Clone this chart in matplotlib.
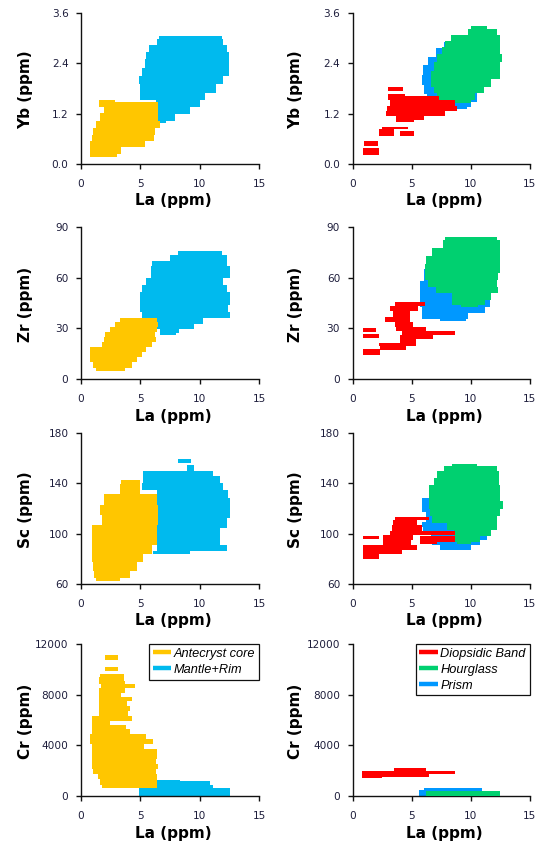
import matplotlib
matplotlib.use("Agg")
import matplotlib.pyplot as plt
from matplotlib.lines import Line2D

plt.rcParams['font.family'] = ['DejaVu Sans']

# Colours of the compositional groups
C_CORE = '#FFC600'
C_MANTLE = '#00BAEE'
C_DIOP = '#FF0000'
C_HOUR = '#00D070'
C_PRISM = '#0098FF'

# Each field is stored as rows: y level, left La edge, right La edge.

# ---- Yb vs La -------------------------------------------------------------
yb_core_y = [1.52, 1.45, 1.29, 1.13, 0.93, 0.78, 0.62, 0.46, 0.34, 0.16]
yb_core_l = [1.55, 1.55, 1.94, 1.60, 1.26, 1.00, 0.90, 0.80, 0.80, 0.80]
yb_core_r = [2.90, 6.50, 6.50, 6.50, 6.65, 6.20, 6.15, 5.40, 3.40, 3.00]

yb_mant_y = [3.04, 2.91, 2.75, 2.60, 2.40, 2.20, 2.00, 1.80, 1.60, 1.45, 1.29, 1.09, 0.97]
yb_mant_l = [6.6, 6.4, 5.7, 5.5, 5.4, 5.1, 4.9, 5.0, 5.0, 6.3, 6.4, 6.4, 6.4]
yb_mant_r = [11.85, 12.0, 12.3, 12.5, 12.5, 12.5, 12.0, 11.4, 10.45, 10.0, 9.2, 7.9, 7.2]

yb_diop = [
    ([0.54, 0.44], [0.99, 0.99], [2.18, 2.18]),
    ([0.38, 0.22], [0.85, 0.85], [2.27, 2.27]),
    ([0.88, 0.78, 0.66], [2.47, 2.20, 2.20], [4.65, 3.50, 3.50]),
    ([0.78, 0.66], [4.0, 4.0], [5.2, 5.2]),
    ([1.84, 1.75], [3.03, 3.03], [4.30, 4.30]),
    ([1.67, 1.58, 1.45, 1.33, 1.21, 1.09, 0.99],
     [3.0, 3.0, 3.2, 2.9, 2.8, 3.7, 3.7],
     [4.4, 7.3, 8.7, 8.85, 7.85, 6.0, 5.2]),
]
yb_prism_y = [2.90, 2.63, 2.48, 2.24, 2.00, 1.76, 1.57, 1.41, 1.30]
yb_prism_l = [7.7, 7.1, 6.4, 5.95, 5.9, 6.0, 6.3, 5.9, 6.3]
yb_prism_r = [8.3, 9.0, 9.5, 10.0, 10.5, 10.5, 10.5, 10.0, 9.7]
yb_hour_y = [3.30, 3.15, 2.99, 2.87, 2.71, 2.52, 2.32, 2.12, 1.92, 1.76, 1.61, 1.45]
yb_hour_l = [10.0, 9.8, 8.3, 7.85, 7.6, 7.15, 6.85, 6.6, 6.6, 6.85, 7.15, 7.4]
yb_hour_r = [11.4, 12.25, 12.5, 12.5, 12.5, 12.65, 12.5, 12.45, 11.7, 11.1, 10.4, 10.0]

# ---- Zr vs La -------------------------------------------------------------
zr_core_y = [36.0, 35.0, 32.0, 29.1, 26.1, 23.2, 20.2, 17.3, 14.3, 11.4, 8.4, 5.0]
zr_core_l = [3.3, 3.3, 2.9, 2.45, 2.0, 1.94, 1.75, 0.8, 0.8, 0.8, 1.0, 1.3]
zr_core_r = [6.4, 6.4, 6.45, 6.4, 6.25, 6.3, 5.95, 5.5, 5.1, 4.7, 4.3, 3.7]

zr_mant_y = [75.5, 71.3, 68.8, 65.4, 61.5, 57.6, 53.6, 49.7, 45.8, 41.9, 37.9, 34.0, 31.0, 28.1, 26.0]
zr_mant_l = [8.2, 7.5, 5.95, 5.9, 5.9, 5.5, 5.1, 5.0, 5.0, 5.0, 5.1, 6.4, 6.4, 6.65, 6.65]
zr_mant_r = [11.85, 12.3, 12.3, 12.55, 12.55, 12.0, 12.3, 12.55, 12.55, 12.4, 12.55, 10.3, 9.5, 8.3, 8.0]

zr_diop = [
    ([45.5, 44.0, 41.9, 38.9, 35.0, 32.0, 29.5, 27.1, 25.2, 22.2, 20.2, 18.3, 17.0],
     [3.6, 3.6, 3.2, 3.45, 2.75, 3.6, 3.7, 4.15, 4.0, 4.0, 2.2, 2.3, 2.3],
     [6.1, 6.1, 5.55, 4.85, 4.85, 5.15, 6.25, 8.65, 6.8, 5.4, 5.4, 4.55, 4.55]),
    ([30.2, 28.0], [0.85, 0.85], [2.0, 2.0]),
    ([26.5, 24.0], [0.9, 0.9], [2.2, 2.2]),
    ([17.7, 14.5], [0.85, 0.85], [2.3, 2.3]),
]
zr_prism_y = [68.5, 61.5, 54.6, 48.7, 44.8, 40.9, 36.9, 34.5]
zr_prism_l = [6.25, 6.0, 5.7, 5.7, 5.7, 5.85, 5.85, 7.4]
zr_prism_r = [8.0, 9.0, 9.35, 10.5, 11.6, 11.2, 9.8, 9.6]
zr_hour_y = [84.0, 80.2, 75.3, 70.3, 65.4, 60.5, 56.6, 52.7, 48.7, 44.8, 42.5]
zr_hour_l = [7.8, 7.65, 6.7, 6.25, 6.1, 6.1, 6.4, 7.1, 8.4, 8.4, 9.2]
zr_hour_r = [12.2, 12.45, 12.45, 12.45, 12.45, 12.3, 12.2, 12.3, 11.75, 11.2, 10.6]

# ---- Sc vs La -------------------------------------------------------------
sc_core_y = [142.5, 136.3, 127.0, 119.1, 111.1, 103.2, 95.2, 87.3, 80.7, 74.0, 67.4, 62.0]
sc_core_l = [3.4, 3.3, 1.95, 1.6, 1.8, 0.9, 0.9, 0.9, 0.9, 1.0, 1.1, 1.3]
sc_core_r = [5.0, 5.0, 6.4, 6.5, 6.5, 6.4, 6.4, 5.95, 5.25, 4.7, 4.1, 3.3]

sc_mant = [
    ([149.5, 142.9, 137.6, 132.3, 124.4, 116.4, 108.5, 100.5, 92.6, 88.6, 83.5],
     [5.25, 5.25, 5.1, 6.4, 6.4, 6.4, 6.4, 6.4, 6.4, 6.4, 6.1],
     [11.1, 11.7, 12.0, 12.4, 12.55, 12.55, 12.3, 11.7, 11.7, 12.3, 9.2]),
    ([159.0, 156.0], [8.2, 8.2], [9.3, 9.3]),
    ([154.5, 150.0], [8.9, 8.9], [9.5, 9.5]),
]

sc_diop = [
    ([113.5, 108.5, 104.5, 100.5, 96.6, 92.6, 88.6, 85.2, 82.0, 79.5],
     [3.6, 3.4, 3.3, 3.2, 2.6, 2.6, 0.9, 0.9, 0.9, 0.9],
     [6.45, 5.45, 5.9, 8.7, 5.15, 4.9, 5.45, 4.2, 2.2, 2.2]),
    ([98.5, 95.0, 92.0], [5.7, 5.7, 5.7], [8.7, 8.7, 7.15]),
    ([98.4, 95.8], [0.85, 0.85], [2.2, 2.2]),
]
sc_prism_y = [128.5, 121.7, 112.0, 107.2, 103.2, 97.9, 92.6, 88.6, 87.0]
sc_prism_l = [5.85, 5.85, 6.2, 5.85, 5.95, 6.6, 6.7, 7.4, 7.4]
sc_prism_r = [6.85, 7.5, 8.5, 8.85, 10.0, 11.4, 10.8, 10.0, 10.0]
sc_hour_y = [155.5, 152.2, 146.9, 141.6, 136.3, 129.6, 123.0, 116.4, 111.1, 105.8, 100.5, 95.2, 91.5]
sc_hour_l = [8.4, 7.7, 7.15, 6.85, 6.5, 6.5, 6.5, 6.55, 6.7, 8.0, 8.55, 8.7, 8.85]
sc_hour_r = [10.55, 12.25, 12.4, 12.4, 12.5, 12.5, 12.7, 12.5, 12.25, 12.25, 11.7, 10.8, 10.0]

# ---- Cr vs La -------------------------------------------------------------
cr_core = [
    ([11100, 10730], [2.0, 2.0], [3.15, 3.15]),
    ([10150, 9840], [2.0, 2.0], [3.15, 3.15]),
    ([9600, 9200, 8890, 8750, 8360, 7960, 7700, 7300, 6910, 6510, 6120, 5720, 5460,
      5060, 4670, 4270, 3880, 3480, 3090, 2690, 2290, 1900, 1500, 1110, 650],
     [1.6, 1.5, 1.5, 1.7, 1.5, 1.5, 1.5, 1.5, 1.5, 1.5, 0.9, 0.9, 0.9,
      0.9, 0.75, 0.75, 0.9, 0.9, 0.9, 0.9, 0.9, 1.0, 1.45, 1.6, 1.75],
     [3.6, 3.6, 3.7, 4.55, 3.7, 3.4, 4.3, 3.9, 4.1, 4.0, 4.3, 2.45, 3.8,
      4.1, 5.5, 6.1, 5.3, 6.4, 6.4, 6.35, 6.5, 6.35, 6.4, 6.4, 6.4]),
]
cr_mant_y = [1300, 1030, 760, 500, 30]
cr_mant_l = [6.1, 5.55, 5.25, 4.85, 4.85]
cr_mant_r = [8.35, 10.9, 11.15, 12.55, 12.55]

cr_diop_y = [2250, 2080, 1900, 1630, 1400]
cr_diop_l = [3.5, 3.5, 0.8, 0.8, 0.8]
cr_diop_r = [6.2, 6.2, 8.65, 6.5, 2.5]
cr_prism_y = [600, 350, 30]
cr_prism_l = [6.0, 5.6, 5.6]
cr_prism_r = [10.95, 10.95, 7.1]
cr_hour_y = [400, 30]
cr_hour_l = [6.2, 6.2]
cr_hour_r = [12.5, 12.5]

# Axis settings per row
x_ticks = [0, 5, 10, 15]
row_names = ['Yb (ppm)', 'Zr (ppm)', 'Sc (ppm)', 'Cr (ppm)']
row_lims = [(0, 3.6), (0, 90), (60, 180), (0, 12000)]
row_ticks = [[0.0, 1.2, 2.4, 3.6], [0, 30, 60, 90], [60, 100, 140, 180], [0, 4000, 8000, 12000]]
row_fmt = ['{:.1f}', '{:d}', '{:d}', '{:d}']

TICK_COLOR = '#1e1e3c'
AXIS_COLOR = '#111111'

fig = plt.figure(figsize=(5.38, 8.47), dpi=100)
W, H = 538.0, 847.0
col_left = [81.0, 352.7]
col_width = [178.0, 177.0]
row_top = [13.0, 227.0, 433.0, 644.0]
row_bot = [164.0, 379.0, 584.0, 796.0]

axes = [[None, None] for _ in range(4)]
for r in range(4):
    for c in range(2):
        ax = fig.add_axes([col_left[c] / W, 1 - row_bot[r] / H,
                           col_width[c] / W, (row_bot[r] - row_top[r]) / H])
        ax.set_xlim(0, 15)
        ax.set_ylim(*row_lims[r])
        ax.set_xticks(x_ticks)
        ax.set_xticklabels([str(t) for t in x_ticks])
        ax.set_yticks(row_ticks[r])
        ax.set_yticklabels([row_fmt[r].format(t) for t in row_ticks[r]])
        for s in ('top', 'right'):
            ax.spines[s].set_visible(False)
        for s in ('left', 'bottom'):
            ax.spines[s].set_linewidth(1.0)
            ax.spines[s].set_color(AXIS_COLOR)
        ax.tick_params(direction='out', length=3.5, width=1.0, color=AXIS_COLOR,
                       labelsize=7.6, labelcolor=TICK_COLOR)
        ax.tick_params(axis='y', pad=5.5)
        ax.tick_params(axis='x', pad=7)
        ax.set_xlabel('La (ppm)', fontsize=11, fontweight='bold')
        ax.set_ylabel(row_names[r], fontsize=11, fontweight='bold')
        ax.xaxis.set_label_coords(0.52, -0.195)
        ax.yaxis.set_label_coords(-0.27 if c == 0 else -0.28, 0.49)
        axes[r][c] = ax


def blob(ax, y, left, right, color, z):
    ax.fill_betweenx(y, left, right, step='mid', color=color, lw=0, zorder=z)


# Left column: antecryst core drawn over the mantle + rim
blob(axes[0][0], yb_mant_y, yb_mant_l, yb_mant_r, C_MANTLE, 2)
blob(axes[0][0], yb_core_y, yb_core_l, yb_core_r, C_CORE, 3)
blob(axes[1][0], zr_mant_y, zr_mant_l, zr_mant_r, C_MANTLE, 2)
blob(axes[1][0], zr_core_y, zr_core_l, zr_core_r, C_CORE, 3)
for y, l, rr in sc_mant:
    blob(axes[2][0], y, l, rr, C_MANTLE, 2)
blob(axes[2][0], sc_core_y, sc_core_l, sc_core_r, C_CORE, 3)
blob(axes[3][0], cr_mant_y, cr_mant_l, cr_mant_r, C_MANTLE, 2)
for y, l, rr in cr_core:
    blob(axes[3][0], y, l, rr, C_CORE, 3)

# Right column: prism, hourglass, then diopsidic band on top
blob(axes[0][1], yb_prism_y, yb_prism_l, yb_prism_r, C_PRISM, 2)
blob(axes[0][1], yb_hour_y, yb_hour_l, yb_hour_r, C_HOUR, 3)
for y, l, rr in yb_diop:
    blob(axes[0][1], y, l, rr, C_DIOP, 4)
blob(axes[1][1], zr_prism_y, zr_prism_l, zr_prism_r, C_PRISM, 2)
blob(axes[1][1], zr_hour_y, zr_hour_l, zr_hour_r, C_HOUR, 3)
for y, l, rr in zr_diop:
    blob(axes[1][1], y, l, rr, C_DIOP, 4)
blob(axes[2][1], sc_prism_y, sc_prism_l, sc_prism_r, C_PRISM, 2)
blob(axes[2][1], sc_hour_y, sc_hour_l, sc_hour_r, C_HOUR, 3)
for y, l, rr in sc_diop:
    blob(axes[2][1], y, l, rr, C_DIOP, 4)
blob(axes[3][1], cr_prism_y, cr_prism_l, cr_prism_r, C_PRISM, 2)
blob(axes[3][1], cr_hour_y, cr_hour_l, cr_hour_r, C_HOUR, 3)
blob(axes[3][1], cr_diop_y, cr_diop_l, cr_diop_r, C_DIOP, 4)


def add_legend(ax, labels, colors):
    handles = [Line2D([], [], color=col, lw=3.2, solid_capstyle='butt') for col in colors]
    leg = ax.legend(handles, labels, loc='upper right', bbox_to_anchor=(1.0, 1.0),
                    borderaxespad=0.0, fancybox=False, framealpha=1.0,
                    edgecolor=AXIS_COLOR, handlelength=1.45, handletextpad=0.2,
                    labelspacing=0.3, borderpad=0.3,
                    prop={'family': 'Liberation Sans', 'size': 9.2, 'style': 'italic'})
    leg.get_frame().set_linewidth(0.9)
    leg.set_zorder(10)


add_legend(axes[3][0], ['Antecryst core', 'Mantle+Rim'], [C_CORE, C_MANTLE])
add_legend(axes[3][1], ['Diopsidic Band', 'Hourglass', 'Prism'], [C_DIOP, C_HOUR, C_PRISM])

fig.savefig('out.png', dpi=100)
